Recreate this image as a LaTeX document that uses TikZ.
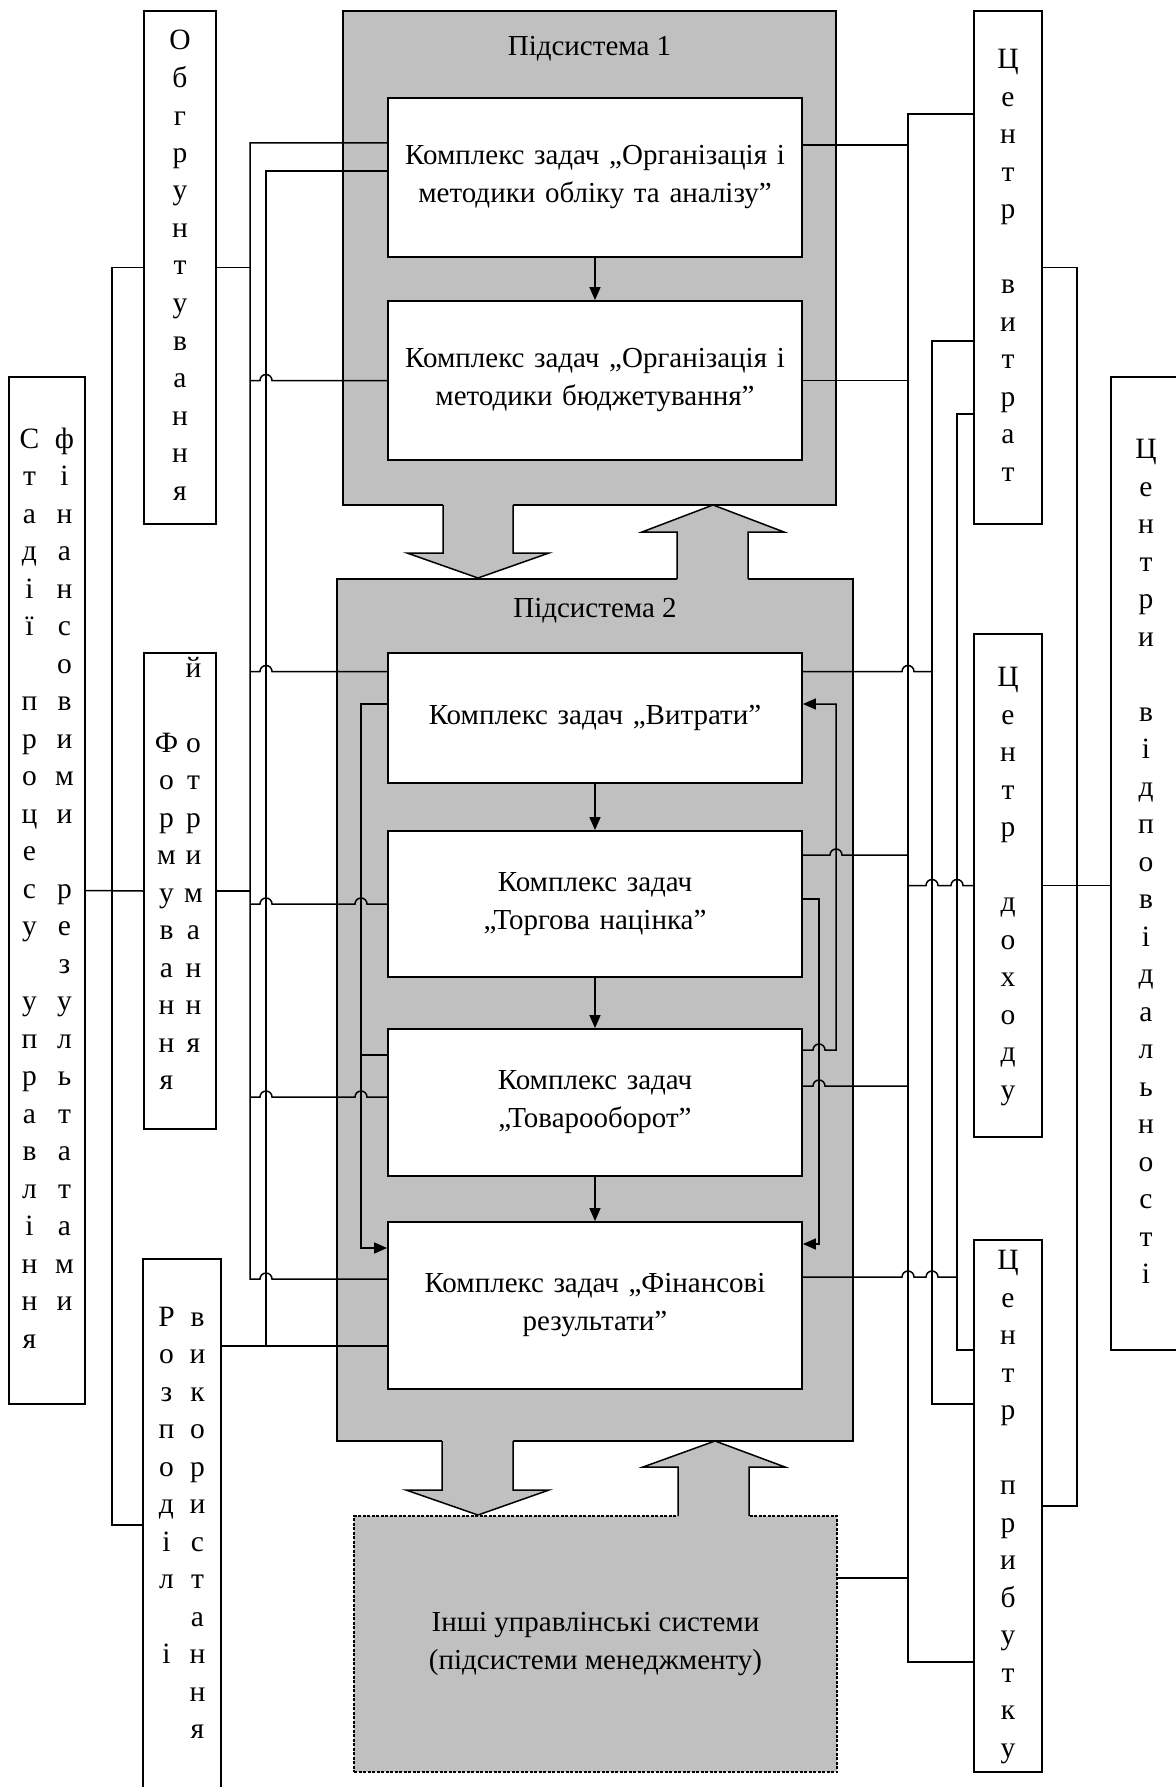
\documentclass[tikz,border=0pt]{standalone}
\usepackage{fontspec}
\setmainfont{Liberation Serif}
\usepackage{array}
\usetikzlibrary{arrows.meta,positioning,calc}

\definecolor{sysgray}{RGB}{192,192,192}

\tikzset{
  wire/.style={line width=1.5pt},
  arr/.style={-{Triangle[length=13pt,width=11pt]}},
  subsys/.style={draw,fill=sysgray,line width=1.8pt,inner sep=0pt},
  taskbox/.style={draw,fill=white,line width=1.8pt,inner sep=0pt,minimum width=414pt,text width=404pt,align=center,font=\fontsize{29}{38}\selectfont},
  vbox/.style={draw,fill=white,line width=1.8pt,inner sep=0pt,font=\fontsize{29.5}{37.5}\selectfont},
  lbl/.style={font=\fontsize{29}{38}\selectfont}
}

\begin{document}
\begin{tikzpicture}[x=1pt,y=-1pt]
    \useasboundingbox (0,0) rectangle (1175,1787);

    % Subsystems
    \node[subsys, minimum width=493pt, minimum height=494pt] (sub1) at (589.5,258) {};
    \node[subsys, minimum width=516pt, minimum height=862pt] (sub2) at (595,1010) {};
    \node[subsys, dash pattern=on 3pt off 1.5pt, minimum width=483pt, minimum height=256pt, align=center, font=\fontsize{29}{38}\selectfont] (other) at (595.5,1644) {Інші управлінські системи\\(підсистеми менеджменту)};
    \node[lbl] (lbl1) at ([yshift=-39pt]sub1.north) {Підсистема 1};
    \node[lbl] (lbl2) at ([yshift=-33pt]sub2.north) {Підсистема 2};

    % Block arrows between subsystems
    \fill[sysgray] (443,504) -- (443,553) -- (407,553) -- (478,578) -- (549,553) -- (513,553) -- (513,504) -- cycle;
    \draw[wire] (443,505) -- (443,553) -- (407,553) -- (478,578) -- (549,553) -- (513,553) -- (513,505);
    \fill[sysgray] (677,581) -- (677,532) -- (642,532) -- (713,506) -- (784,532) -- (748,532) -- (748,581) -- cycle;
    \draw[wire] (677,579) -- (677,532) -- (642,532) -- (713,505) -- (784,532) -- (748,532) -- (748,579);
    \fill[sysgray] (442,1440) -- (442,1490) -- (406,1490) -- (478,1515) -- (549,1490) -- (513,1490) -- (513,1440) -- cycle;
    \draw[wire] (442,1441) -- (442,1490) -- (406,1490) -- (478,1515) -- (549,1490) -- (513,1490) -- (513,1441);
    \fill[sysgray] (678,1518) -- (678,1467) -- (643,1467) -- (715,1442) -- (785,1467) -- (749,1467) -- (749,1518) -- cycle;
    \draw[wire] (678,1516) -- (678,1467) -- (643,1467) -- (715,1441) -- (785,1467) -- (749,1467) -- (749,1516);

    % Task complexes
    \node[taskbox, minimum height=159pt] (b1) at (595,177.5) {Комплекс задач „Організація і\\методики обліку та аналізу”};
    \node[taskbox, minimum height=159pt] (b2) at (595,380.5) {Комплекс задач „Організація і\\методики бюджетування”};
    \node[taskbox, minimum height=130pt] (vytr) at (595,718) {Комплекс задач „Витрати”};
    \node[taskbox, minimum height=146pt] (torg) at (595,904) {Комплекс задач\\„Торгова націнка”};
    \node[taskbox, minimum height=147pt] (tovar) at (595,1102.5) {Комплекс задач\\„Товарооборот”};
    \node[taskbox, minimum height=167pt] (fin) at (595,1305.5) {Комплекс задач „Фінансові\\результати”};

    % Left boxes
    \node[vbox, minimum width=76pt, minimum height=1027pt] (stadii) at (47,890.5) {\begin{tabular}{@{}wc{20pt}@{\hspace{15pt}}wc{20pt}@{}}
      С & ф\\ т & і\\ а & н\\ д & а\\ і & н\\ ї & с\\ & о\\ п & в\\ р & и\\ о & м\\ ц & и\\ е & \\ с & р\\
      у & е\\ & з\\ у & у\\ п & л\\ р & ь\\ а & т\\ в & а\\ л & т\\ і & а\\ н & м\\ н & и\\ я &
    \end{tabular}};
    \node[vbox, minimum width=72pt, minimum height=513pt] (obgr) at (180,267.5) {\begin{tabular}{@{}c@{}}
      О\\ б\\ г\\ р\\ у\\ н\\ т\\ у\\ в\\ а\\ н\\ н\\ я
    \end{tabular}};
    \node[vbox, minimum width=72pt, minimum height=476pt] (form) at (180,891) {\raisebox{0pt}[\dimexpr\height-15pt\relax][\dimexpr\depth+15pt\relax]{\begin{tabular}{@{}wc{18pt}@{\hspace{9pt}}wc{18pt}@{}}
      & й\\ & \\ Ф & о\\ о & т\\ р & р\\ м & и\\ у & м\\ в & а\\ а & н\\ н & н\\ н & я\\ я &
    \end{tabular}}};
    \node[vbox, minimum width=78pt, minimum height=532pt] (rozp) at (182,1525) {\begin{tabular}{@{}wc{20pt}@{\hspace{11pt}}wc{20pt}@{}}
      Р & в\\ о & и\\ з & к\\ п & о\\ о & р\\ д & и\\ і & с\\ л & т\\ & а\\ і & н\\ & н\\ & я
    \end{tabular}};

    % Right boxes
    \node[vbox, minimum width=68pt, minimum height=513pt] (cvyt) at (1008,267.5) {\begin{tabular}{@{}c@{}}
      Ц\\ е\\ н\\ т\\ р\\ {}\\ в\\ и\\ т\\ р\\ а\\ т
    \end{tabular}};
    \node[vbox, minimum width=68pt, minimum height=503pt] (cdoh) at (1008,885.5) {\begin{tabular}{@{}c@{}}
      Ц\\ е\\ н\\ т\\ р\\ {}\\ д\\ о\\ х\\ о\\ д\\ у
    \end{tabular}};
    \node[vbox, minimum width=68pt, minimum height=532pt] (cpryb) at (1008,1506) {\begin{tabular}{@{}c@{}}
      Ц\\ е\\ н\\ т\\ р\\ {}\\ п\\ р\\ и\\ б\\ у\\ т\\ к\\ у
    \end{tabular}};
    \node[vbox, minimum width=70pt, minimum height=973pt] (cvid) at (1146,863.5) {\begin{tabular}{@{}c@{}}
      Ц\\ е\\ н\\ т\\ р\\ и\\ {}\\ в\\ і\\ д\\ п\\ о\\ в\\ і\\ д\\ а\\ л\\ ь\\ н\\ о\\ с\\ т\\ і
    \end{tabular}};

    % Flow inside the subsystems
    \draw[wire,arr] (b1.south) -- (b2.north);
    \draw[wire,arr] (vytr.south) -- (torg.north);
    \draw[wire,arr] (torg.south) -- (tovar.north);
    \draw[wire,arr] (tovar.south) -- (fin.north);
    \draw[wire,arr] (vytr.west |- 0,704) -| (361,1248) -- (fin.west |- 0,1248);
    \draw[wire] (tovar.west |- 0,1055) -- (361,1055);
    \draw[wire,arr] (tovar.east |- 0,1050) -- (813,1050) arc(180:0:6pt) -- (836,1050) |- (vytr.east |- 0,704);
    \draw[wire,arr] (torg.east |- 0,899) -| (819,1244) -- (fin.east |- 0,1244);

    % Left buses
    \draw[wire] (obgr.west) -- ++(-31,0) |- (rozp.west);
    \draw[wire] (stadii.east) -- (form.west);
    \draw[wire] (obgr.east) -- ++(34,0);
    \draw[wire] (form.east) -- ++(34,0);
    \draw[wire] (b1.west |- 0,143) -| (250,1279) -- (260,1279) arc(180:0:6pt) -- (fin.west |- 0,1279);
    \draw[wire] (250,380.5) -- (260,380.5) arc(180:0:6pt) -- (b2.west);
    \draw[wire] (250,671.5) -- (260,671.5) arc(180:0:6pt) -- (vytr.west |- 0,671.5);
    \draw[wire] (250,904) -- (260,904) arc(180:0:6pt) -- (355,904) arc(180:0:6pt) -- (torg.west);
    \draw[wire] (250,1097) -- (260,1097) arc(180:0:6pt) -- (355,1097) arc(180:0:6pt) -- (tovar.west |- 0,1097);
    \draw[wire] (b1.west |- 0,171) -| (266,1346);
    \draw[wire] (rozp.east |- 0,1346) -- (fin.west |- 0,1346);

    % Right buses
    \draw[wire] (cvyt.west |- 0,114) -| (908,1662) -- (cpryb.west |- 0,1662);
    \draw[wire] (b1.east |- 0,145) -- (908,145);
    \draw[wire] (b2.east) -- (908,380.5);
    \draw[wire] (vytr.east |- 0,671.5) -- (902,671.5) arc(180:0:6pt) -- (932,671.5);
    \draw[wire] (torg.east |- 0,855) -- (830,855) arc(180:0:6pt) -- (908,855);
    \draw[wire] (tovar.east |- 0,1086) -- (813,1086) arc(180:0:6pt) -- (908,1086);
    \draw[wire] (other.east |- 0,1578) -- (908,1578);
    \draw[wire] (cdoh.west -| 908,0) -- ++(18,0) arc(180:0:6pt) -- ++(13,0) arc(180:0:6pt) -- (cdoh.west);
    \draw[wire] (cvyt.west |- 0,341) -| (932,1404) -- (cpryb.west |- 0,1404);
    \draw[wire] (cvyt.west |- 0,414) -| (957,1350) -- (cpryb.west |- 0,1350);
    \draw[wire] (fin.east |- 0,1277) -- (902,1277) arc(180:0:6pt) -- (926,1277) arc(180:0:6pt) -- (957,1277);
    \draw[wire] (cvyt.east) -| (1077,1506) -- (cpryb.east);
    \draw[wire] (cdoh.east) -- (cdoh.east -| cvid.west);

\end{tikzpicture}
\end{document}
